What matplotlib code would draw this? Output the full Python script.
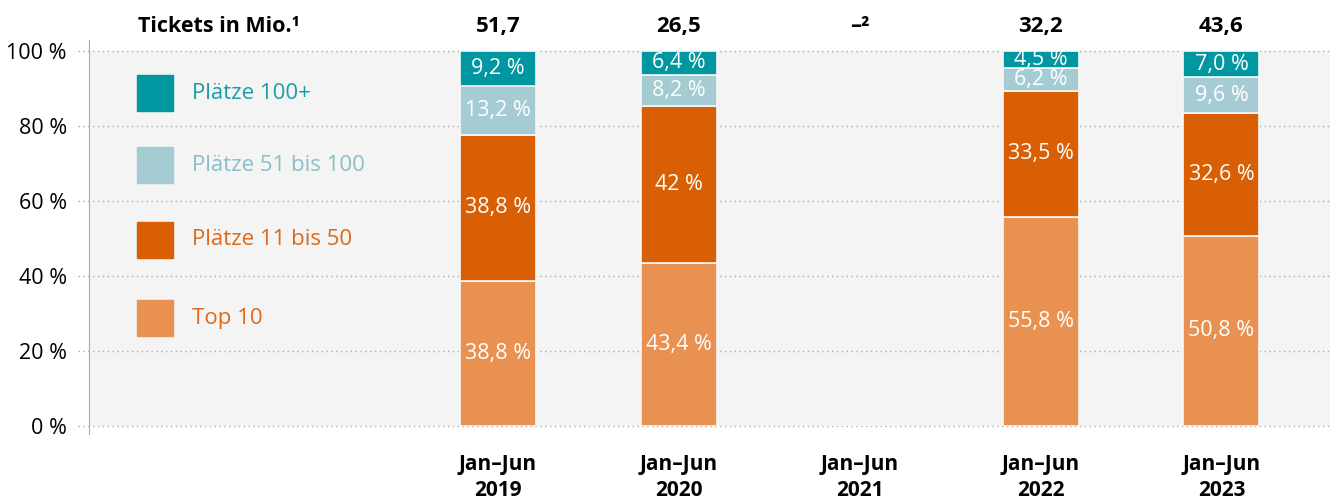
import matplotlib.pyplot as plt
from matplotlib.patches import Rectangle
import numpy as np

plt.rcParams['font.family'] = ['Open Sans', 'DejaVu Sans']

# Data
periods = ['Jan–Jun\n2019', 'Jan–Jun\n2020', 'Jan–Jun\n2021', 'Jan–Jun\n2022', 'Jan–Jun\n2023']
tickets = ['51,7', '26,5', '–²', '32,2', '43,6']
segments = ['Top 10', 'Plätze 11 bis 50', 'Plätze 51 bis 100', 'Plätze 100+']
top10 = [38.8, 43.4, np.nan, 55.8, 50.8]
plaetze_11_50 = [38.8, 42.0, np.nan, 33.5, 32.6]
plaetze_51_100 = [13.2, 8.2, np.nan, 6.2, 9.6]
plaetze_100p = [9.2, 6.4, np.nan, 4.5, 7.0]
labels = [
    ['38,8 %', '43,4 %', '', '55,8 %', '50,8 %'],
    ['38,8 %', '42 %', '', '33,5 %', '32,6 %'],
    ['13,2 %', '8,2 %', '', '6,2 %', '9,6 %'],
    ['9,2 %', '6,4 %', '', '4,5 %', '7,0 %'],
]
yticks = [0, 20, 40, 60, 80, 100]

colors = ['#e89150', '#d95f05', '#a5cbd3', '#0097a0']
text_colors = ['#dd6a1a', '#dd6a1a', '#88bfc8', '#1a9ea6']

fig = plt.figure(figsize=(13.3, 5.0), dpi=100)
ax = fig.add_axes([0.067, 0.148, 0.933, 0.75])
ax.set_facecolor('#f4f4f4')

x = np.arange(len(periods))
series = [top10, plaetze_11_50, plaetze_51_100, plaetze_100p]
bottom = np.zeros(len(periods))
for vals, col, labs in zip(series, colors, labels):
    v = np.nan_to_num(np.array(vals, dtype=float))
    ax.bar(x, v, width=0.42, bottom=bottom, color=col, edgecolor='#f8f8f8',
           linewidth=1.2, zorder=3)
    for xi, b, h, t in zip(x, bottom, v, labs):
        if h > 0:
            ax.text(xi, b + h / 2, t, ha='center', va='center', color='white',
                    fontsize=15.5, zorder=4)
    bottom = bottom + v

ax.set_xlim(-2.26, 4.6)
ax.set_ylim(0, 100)
ax.set_yticks(yticks)
ax.set_yticklabels([f'{t} %' for t in yticks], fontsize=15.5)
# dotted grid lines, reaching a little left of the axis line
ax.hlines(yticks, -2.32, 4.6, linestyles=(0, (1, 2.5)), colors='#aaaaaa',
          linewidth=1, zorder=0, clip_on=False)
ax.tick_params(axis='y', length=0, pad=16)
for s in ['top', 'right', 'bottom']:
    ax.spines[s].set_visible(False)
ax.spines['left'].set_color('#aaaaaa')
ax.spines['left'].set_bounds(-2, 103)
ax.spines['left'].set_clip_on(False)

ax.set_xticks(x)
ax.set_xticklabels(periods, fontsize=15, fontweight='bold', linespacing=1.35)
ax.tick_params(axis='x', length=0, pad=20)
for t in ax.get_xticklabels():
    t.set_fontstretch('condensed')

# ticket totals above bars
for xi, t in zip(x, tickets):
    ax.text(xi, 106.5, t, ha='center', va='center', fontsize=16, fontweight='bold',
            clip_on=False)
ax.text(-1.99, 106.5, 'Tickets in Mio.¹', ha='left', va='center', fontsize=15.5,
        fontweight='bold', clip_on=False)

# legend
leg_y = [28.7, 49.7, 69.5, 88.7]
for yy, col, tcol, name in zip(leg_y, colors, text_colors, segments):
    ax.add_patch(Rectangle((-1.995, yy - 4.8), 0.2, 9.6, color=col, zorder=3))
    ax.text(-1.69, yy, name, ha='left', va='center', fontsize=16, color=tcol)

fig.savefig('out.png', dpi=100)
